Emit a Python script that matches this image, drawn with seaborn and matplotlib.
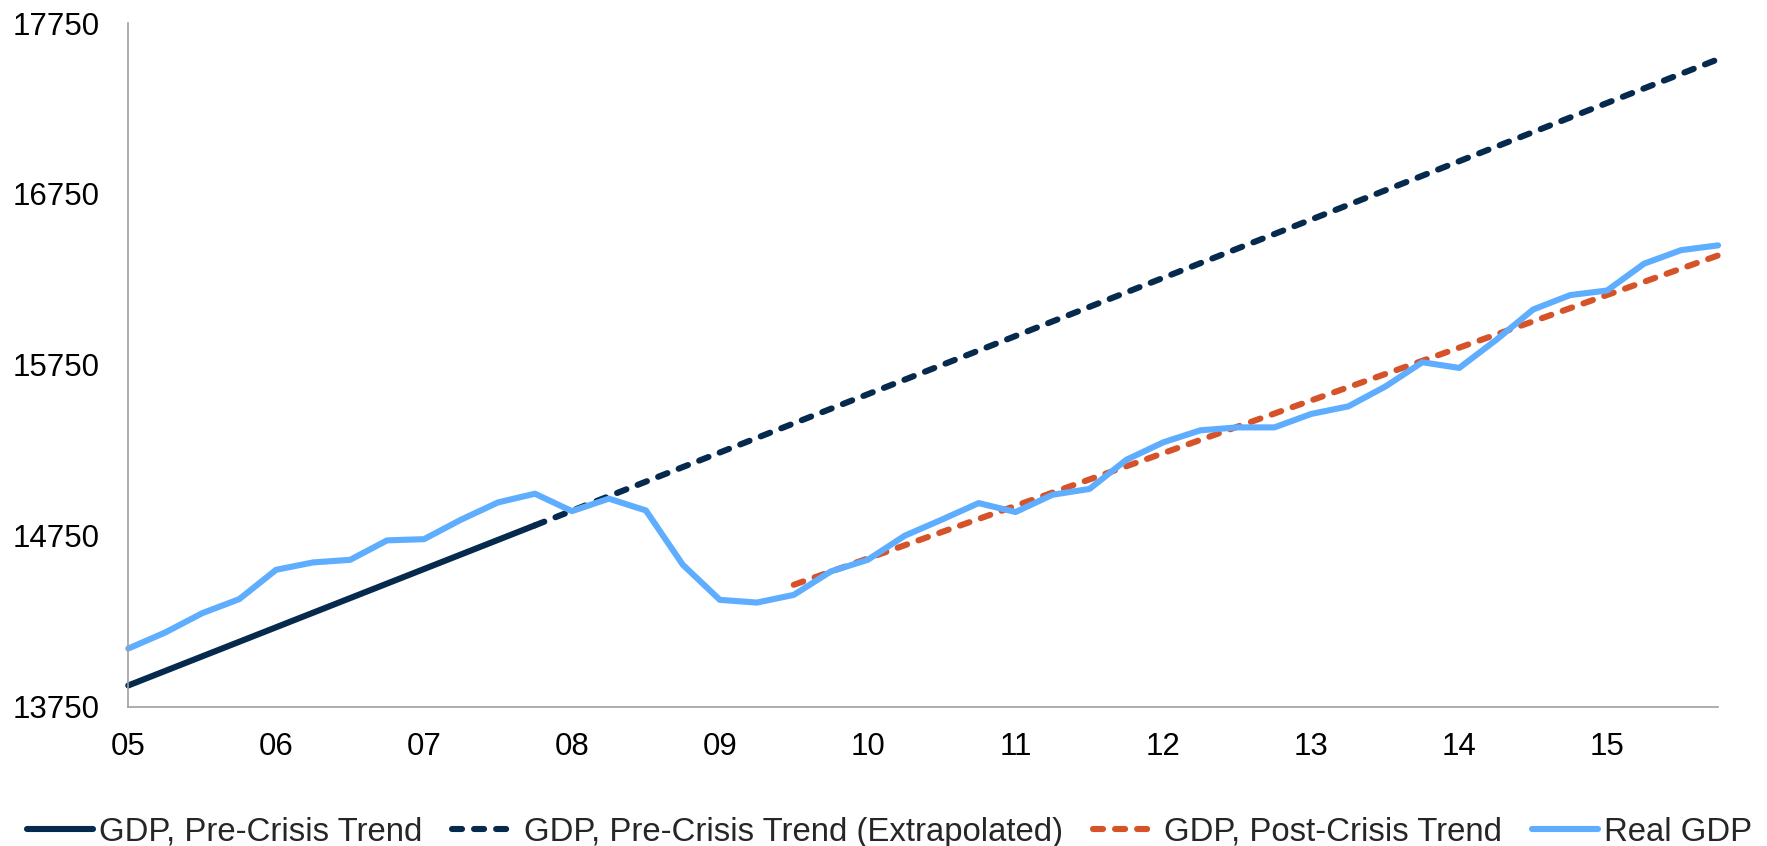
import matplotlib
matplotlib.use("Agg")
import matplotlib.pyplot as plt
import seaborn as sns
import pandas as pd

# Quarterly periods, 2005Q1 .. 2015Q4
quarters = [f"{y}Q{q}" for y in range(2005, 2016) for q in range(1, 5)]

# Real GDP, billions of chained dollars
real_gdp = [14090, 14184, 14297, 14379, 14551, 14594, 14609, 14723, 14730, 14844,
            14945, 14996, 14894, 14967, 14898, 14580, 14375, 14359, 14404, 14541,
            14609, 14750, 14844, 14941, 14889, 14990, 15024, 15195, 15297, 15367,
            15384, 15384, 15463, 15507, 15623, 15765, 15732, 15896, 16074, 16158,
            16185, 16342, 16421, 16449]

# Linear trends, given by their first and last quarter
pre_trend_q = ["2005Q1", "2007Q4"]
pre_trend_v = [13874, 14811]
pre_extrap_q = ["2007Q4", "2015Q4"]
pre_extrap_v = [14811, 17538]
post_trend_q = ["2009Q3", "2015Q4"]
post_trend_v = [14463, 16390]

year_ticks = list(range(2005, 2016))
year_labels = [f"{y % 100:02d}" for y in year_ticks]
y_ticks = [13750, 14750, 15750, 16750, 17750]

names = ["GDP, Pre-Crisis Trend", "GDP, Pre-Crisis Trend (Extrapolated)",
         "GDP, Post-Crisis Trend", "Real GDP"]


def to_year(q):
    return int(q[:4]) + (int(q[-1]) - 1) / 4


sns.set_theme(style="white")
plt.rcParams["font.family"] = ["Liberation Sans", "DejaVu Sans"]

NAVY = "#062a4d"
ORANGE = "#d6532a"
BLUE = "#5eadff"
AXIS = "#a0a0a0"

fig = plt.figure(figsize=(17.67, 8.46), dpi=100)
ax = fig.add_axes([0.0726, 0.1647, 0.8997, 0.8081])

lw = 4.4
dash = (0, (1.64, 1.97))

series = [
    (pre_trend_q, pre_trend_v, NAVY, "-", names[0]),
    (pre_extrap_q, pre_extrap_v, NAVY, dash, names[1]),
    (post_trend_q, post_trend_v, ORANGE, dash, names[2]),
    (quarters, real_gdp, BLUE, "-", names[3]),
]
for qs, vals, col, ls, name in series:
    df = pd.DataFrame({"x": [to_year(q) for q in qs], "y": vals})
    sns.lineplot(data=df, x="x", y="y", ax=ax, color=col, linewidth=lw,
                 linestyle=ls, label=name, clip_on=False)

for line in ax.lines:
    line.set_dash_capstyle("round")
    line.set_solid_capstyle("round")
    line.set_solid_joinstyle("round")

ax.set_xlim(2005, 2015.75)
ax.set_ylim(13750, 17750)
ax.set_xticks(year_ticks)
ax.set_xticklabels(year_labels)
ax.set_yticks(y_ticks)
ax.set_xlabel("")
ax.set_ylabel("")

for side in ["top", "right"]:
    ax.spines[side].set_visible(False)
for side in ["left", "bottom"]:
    ax.spines[side].set_color(AXIS)
    ax.spines[side].set_linewidth(1.2)

ax.tick_params(axis="both", which="major", labelsize=22.5, colors=AXIS,
               labelcolor="black", width=1.2)
ax.tick_params(axis="y", length=6, pad=14.5)
ax.tick_params(axis="x", length=7.5, pad=11)

ax.get_legend().remove()
handles, labels = ax.get_legend_handles_labels()
leg = fig.legend(handles, labels, loc="center", bbox_to_anchor=(0.5035, 0.0165),
                 ncol=4, frameon=False, fontsize=23.7, handlelength=2.0,
                 handletextpad=0.18, columnspacing=0.9, borderpad=0,
                 borderaxespad=0)
for h in leg.get_lines():
    h.set_dash_capstyle("round")
    h.set_solid_capstyle("round")

fig.savefig("out.png", dpi=100, facecolor="white")
